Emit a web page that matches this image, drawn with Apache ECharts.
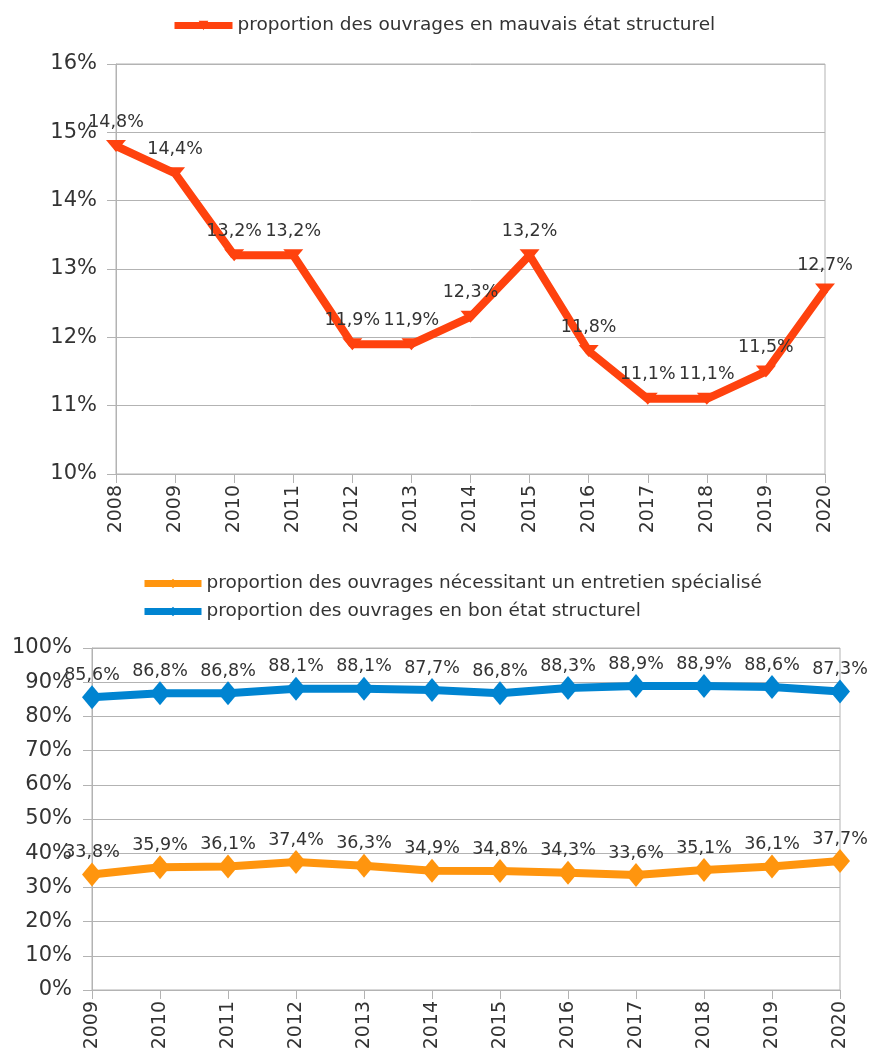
<!DOCTYPE html>
<html><head><meta charset="utf-8">
<script src="https://cdn.jsdelivr.net/npm/echarts@6/dist/echarts.min.js"></script>
<style>html,body{margin:0;padding:0;background:#fff}#c{width:873px;height:1057px}</style>
</head><body><div id="c"></div>
<script>
const yearsTop = ['2008','2009','2010','2011','2012','2013','2014','2015','2016','2017','2018','2019','2020'];
const mauvais = [14.8,14.4,13.2,13.2,11.9,11.9,12.3,13.2,11.8,11.1,11.1,11.5,12.7];
const yearsBottom = ['2009','2010','2011','2012','2013','2014','2015','2016','2017','2018','2019','2020'];
const entretien = [33.8,35.9,36.1,37.4,36.3,34.9,34.8,34.3,33.6,35.1,36.1,37.7];
const bonEtat = [85.6,86.8,86.8,88.1,88.1,87.7,86.8,88.3,88.9,88.9,88.6,87.3];
const nameTop = 'proportion des ouvrages en mauvais état structurel';
const nameEnt = 'proportion des ouvrages nécessitant un entretien spécialisé';
const nameBon = 'proportion des ouvrages en bon état structurel';

const FONT = 'DejaVu Sans';
const TXT = '#333333';
const GRID = '#b3b3b3';
const fmt = v => String(v.toFixed(1)).replace('.', ',') + '%';

const chart = echarts.init(document.getElementById('c'));
const axisCommon = {
  axisLine:{show:true,lineStyle:{color:GRID,width:1}},
  axisTick:{show:true,length:9,lineStyle:{color:GRID}}
};
const xAx = (gi, data) => Object.assign({type:'category',gridIndex:gi,data:data,boundaryGap:false,
  splitLine:{show:false},
  axisLabel:{rotate:90,fontSize:19,color:TXT,fontFamily:FONT,margin:11}},axisCommon);
const yAx = (gi, min, max, iv, m) => Object.assign({type:'value',gridIndex:gi,min:min,max:max,interval:iv,
  splitLine:{show:true,lineStyle:{color:GRID,width:1}},
  axisLabel:{formatter:'{value}%',fontSize:21,color:TXT,fontFamily:FONT,margin:m}},axisCommon);
const lbl = d => ({show:true,position:'top',distance:d,fontSize:17.5,color:TXT,fontFamily:FONT,formatter:p=>fmt(p.value)});
const legText = {fontFamily:FONT,fontSize:18.5,color:TXT};
chart.setOption({
  animation:false,
  textStyle:{fontFamily:FONT},
  legend:[
    {data:[nameTop],left:166,top:11,itemWidth:58,itemHeight:12,itemGap:10,
     lineStyle:{width:7},textStyle:legText},
    {data:[nameEnt,nameBon],left:136,top:569,orient:'vertical',itemWidth:57,itemHeight:12,itemGap:9,
     lineStyle:{width:7},textStyle:legText}
  ],
  grid:[
    {left:116,right:48,top:64,height:410,show:true,borderColor:GRID,borderWidth:1},
    {left:92,right:33,top:648,height:342,show:true,borderColor:GRID,borderWidth:1}
  ],
  xAxis:[ xAx(0, yearsTop), xAx(1, yearsBottom) ],
  yAxis:[ yAx(0,10,16,1,19), yAx(1,0,100,10,20) ],
  series:[
    {name:nameTop,type:'line',xAxisIndex:0,yAxisIndex:0,data:mauvais,
     color:'#ff420e',lineStyle:{width:8,color:'#ff420e'},
     symbol:'triangle',symbolRotate:180,symbolSize:[20,12],
     itemStyle:{color:'#ff420e'},label:lbl(9)},
    {name:nameEnt,type:'line',xAxisIndex:1,yAxisIndex:1,data:entretien,
     color:'#ff950e',lineStyle:{width:8,color:'#ff950e'},
     symbol:'diamond',symbolSize:[20,24],itemStyle:{color:'#ff950e'},label:lbl(1)},
    {name:nameBon,type:'line',xAxisIndex:1,yAxisIndex:1,data:bonEtat,
     color:'#0084d1',lineStyle:{width:8,color:'#0084d1'},
     symbol:'diamond',symbolSize:[20,24],itemStyle:{color:'#0084d1'},label:lbl(1)}
  ]
});
</script></body></html>
